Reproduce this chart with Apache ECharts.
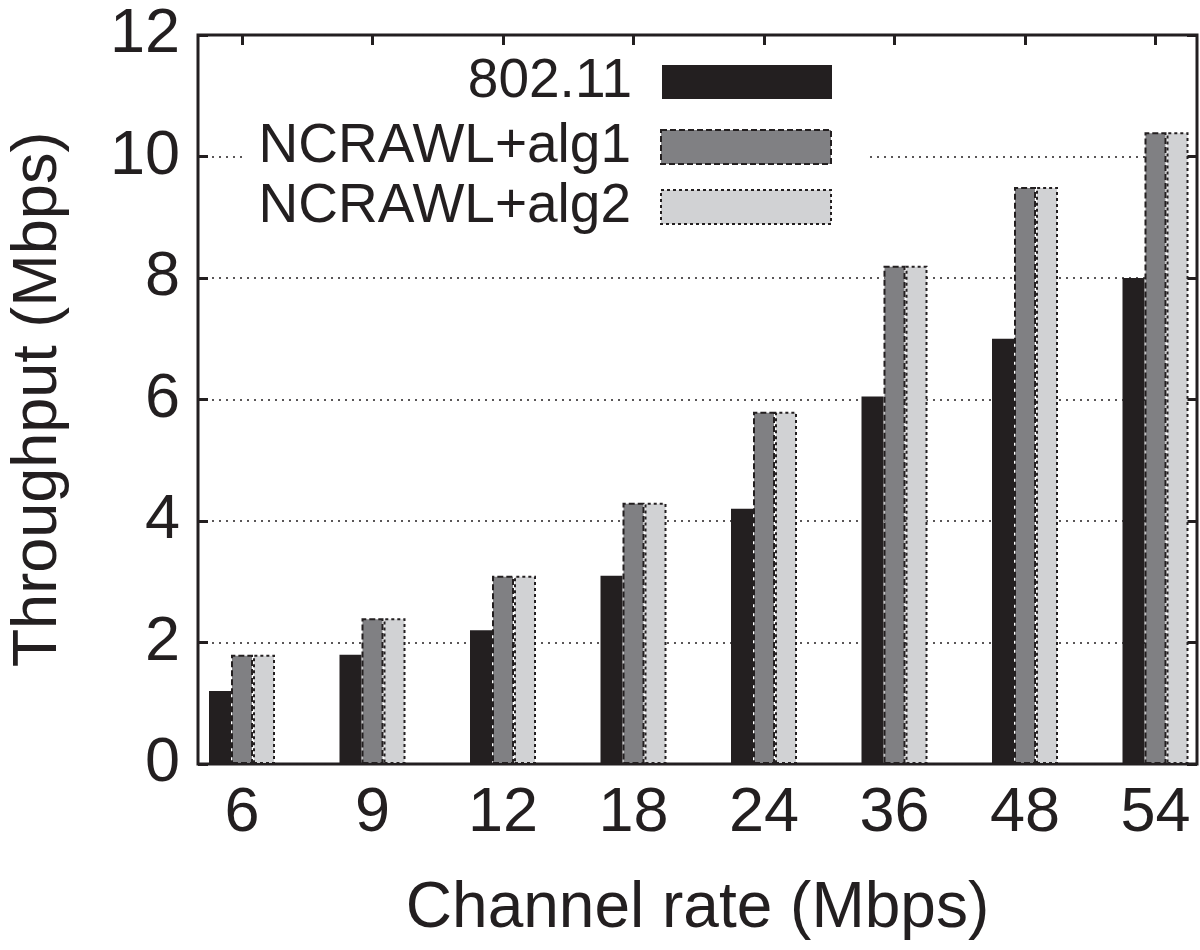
<!DOCTYPE html>
<html>
<head>
<meta charset="utf-8">
<script src="https://cdn.jsdelivr.net/npm/echarts@6/dist/echarts.min.js"></script>
<style>html,body{margin:0;padding:0;background:#fff;}#chart{width:1200px;height:950px;}</style>
</head>
<body>
<div id="chart"></div>
<script>
const categories = ['6', '9', '12', '18', '24', '36', '48', '54'];
const ieee80211 = [1.2, 1.8, 2.2, 3.1, 4.2, 6.05, 7.0, 8.0];
const ncrawlAlg1 = [1.8, 2.4, 3.1, 4.3, 5.8, 8.2, 9.5, 10.4];
const ncrawlAlg2 = [1.8, 2.4, 3.1, 4.3, 5.8, 8.2, 9.5, 10.4];
const seriesNames = ['802.11', 'NCRAWL+alg1', 'NCRAWL+alg2'];
const yTicks = [0, 2, 4, 6, 8, 10, 12];

const INK = '#231f20';
const FONT = '"Liberation Sans", Arial, Helvetica, sans-serif';
const styles = [
  { color: INK, borderWidth: 0 },
  { color: '#808083', borderColor: INK, borderWidth: 2, borderType: [6, 3] },
  { color: '#d1d2d4', borderColor: INK, borderWidth: 2, borderType: [3, 3] }
];
const values = [ieee80211, ncrawlAlg1, ncrawlAlg2];

const chart = echarts.init(document.getElementById('chart'), null, { renderer: 'canvas' });

const legendCenters = [82, 147, 207];
const legends = seriesNames.map((n, i) => ({
  data: [{ name: n, itemStyle: styles[i] }],
  orient: 'vertical',
  align: 'right',
  right: 335,
  top: legendCenters[i] - 32,
  itemWidth: 170,
  itemHeight: 34,
  padding: [4, 33, 4, 13],
  backgroundColor: '#fff',
  selectedMode: false,
  icon: 'rect',
  textStyle: { fontFamily: FONT, fontSize: 55, color: INK, lineHeight: 56, padding: [0, 25, 0, 0] }
}));

const option = {
  animation: false,
  backgroundColor: '#fff',
  legend: legends,
  grid: [
    { left: 176.75, top: 35, width: 1044, height: 729, containLabel: false, outerBoundsMode: 'none' },
    { left: 198, top: 35, width: 999, height: 729, show: true, borderColor: INK, borderWidth: 3, backgroundColor: 'transparent', containLabel: false, outerBoundsMode: 'none' }
  ],
  xAxis: [
    {
      type: 'category', gridIndex: 0, data: categories, position: 'bottom',
      axisLine: { show: false },
      axisTick: { show: true, inside: true, alignWithLabel: true, length: 10, lineStyle: { color: INK, width: 3 } },
      axisLabel: { fontFamily: FONT, fontSize: 63, color: INK, margin: 18 }
    },
    {
      type: 'category', gridIndex: 0, data: categories, position: 'top',
      axisLine: { show: false },
      axisTick: { show: true, inside: true, alignWithLabel: true, length: 10, lineStyle: { color: INK, width: 3 } },
      axisLabel: { show: false }
    },
    {
      type: 'value', gridIndex: 1, min: 0, max: 1,
      axisLine: { show: false }, axisTick: { show: false }, axisLabel: { show: false }, splitLine: { show: false },
      name: 'Channel rate (Mbps)', nameLocation: 'middle', nameGap: 113,
      nameTextStyle: { fontFamily: FONT, fontSize: 64, color: INK }
    }
  ],
  yAxis: [
    { type: 'value', gridIndex: 0, min: 0, max: 12, show: false },
    {
      type: 'value', gridIndex: 1, min: yTicks[0], max: yTicks[yTicks.length - 1], interval: 2, position: 'left',
      axisLine: { show: false },
      axisTick: { show: true, inside: true, length: 10, lineStyle: { color: INK, width: 3 } },
      axisLabel: { fontFamily: FONT, fontSize: 63, color: INK, margin: 18 },
      splitLine: { show: true, lineStyle: { color: INK, width: 1.5, type: [2, 5] } },
      name: 'Throughput (Mbps)', nameLocation: 'middle', nameGap: 128, nameRotate: 90,
      nameTextStyle: { fontFamily: FONT, fontSize: 63, color: INK }
    },
    {
      type: 'value', gridIndex: 1, min: yTicks[0], max: yTicks[yTicks.length - 1], interval: 2, position: 'right',
      axisLine: { show: false },
      axisTick: { show: true, inside: true, length: 10, lineStyle: { color: INK, width: 3 } },
      axisLabel: { show: false },
      splitLine: { show: false }
    }
  ],
  series: seriesNames.map((n, i) => ({
    name: n,
    type: 'bar',
    xAxisIndex: 0,
    yAxisIndex: 0,
    data: values[i],
    barWidth: 22,
    barGap: '0%',
    itemStyle: styles[i],
    emphasis: { disabled: true }
  }))
};
chart.setOption(option);
</script>
</body>
</html>
